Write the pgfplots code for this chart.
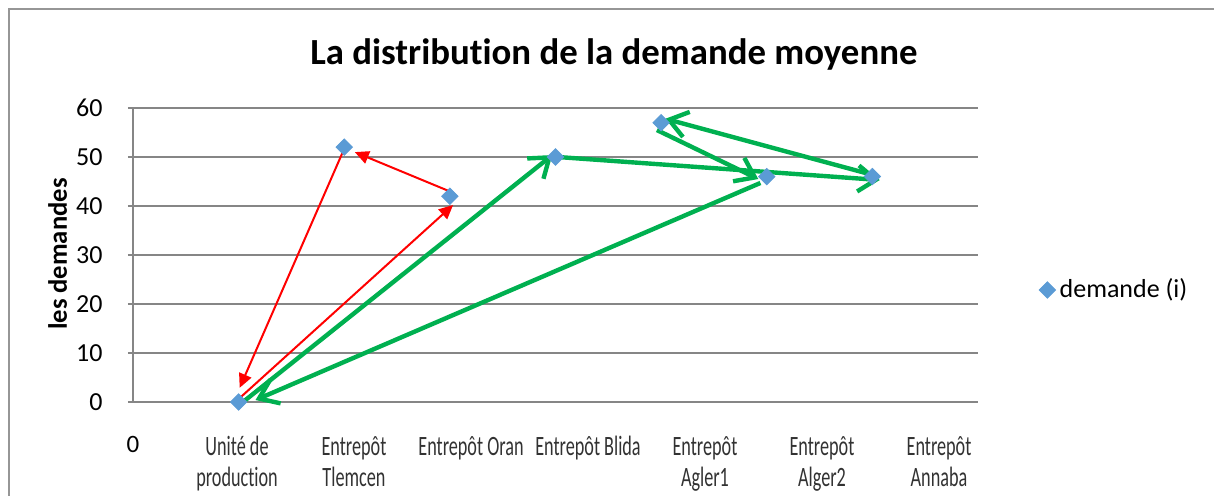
\documentclass[border=0pt]{standalone}
\usepackage{fontspec}
\setmainfont{Carlito}[Ligatures=NoCommon]
\newfontfamily\condfont{Carlito}[FakeStretch=0.65, Ligatures=NoCommon]
\usepackage{pgfplots}
\pgfplotsset{compat=1.18}
\usetikzlibrary{arrows.meta}
\definecolor{markblue}{RGB}{91,155,213}
\definecolor{gridgray}{RGB}{134,134,134}
\definecolor{framegray}{RGB}{150,150,150}
\definecolor{arrgreen}{RGB}{0,176,80}
\definecolor{labgray}{RGB}{50,50,50}
\begin{document}
\begin{tikzpicture}
\useasboundingbox (0,0) rectangle (607pt,248pt);
\begin{scope}
\clip (0,0) rectangle (607pt,248pt);
\draw[color=framegray, line width=0.7pt] (4.5pt,-5pt) -- (4.5pt,243.5pt) -- (615pt,243.5pt);
\end{scope}
\begin{axis}[
  at={(66.5pt,47pt)}, anchor=south west,
  width=422.5pt, height=147pt, scale only axis,
  xmin=0, xmax=8, ymin=0, ymax=60,
  clip=false,
  axis x line*=bottom, axis y line*=left,
  axis line style={color=gridgray, line width=0.7pt},
  ymajorgrids, grid style={color=gridgray, line width=0.7pt},
  ytick={0,10,...,60},
  ytick style={color=gridgray, line width=0.7pt},
  tick align=outside, major tick length=2.5pt,
  xtick={0,0.985,2.092,3.200,4.308,5.415,6.523,7.631},
  xtick style={draw=none},
  xticklabels={{\normalfont\fontsize{12.5}{14}\selectfont\color{black}0},
    Unité de\\production, Entrepôt\\Tlemcen, Entrepôt Oran, Entrepôt Blida,
    Entrepôt\\Agler1, Entrepôt\\Alger2, Entrepôt\\Annaba},
  xticklabel style={align=center, anchor=north, inner sep=0pt, yshift=-14.5pt,
    font=\condfont\fontsize{14}{15.5}\selectfont, text=labgray},
  yticklabel style={font=\fontsize{13}{15}\selectfont, text=black, anchor=east, inner sep=0pt, xshift=-12.5pt},
  /pgf/number format/assume math mode=true,
  title={La distribution de la demande moyenne},
  title style={at={(0.569,1.108)}, anchor=base, font=\bfseries\fontsize{18.4}{21}\selectfont},
  ylabel={les demandes},
  ylabel style={at={(-0.0893,0.503)}, anchor=center, font=\bfseries\fontsize{13.3}{15}\selectfont},
  legend style={draw=none, fill=none, at={(1.072,0.381)}, anchor=west, inner sep=0pt,
    font=\fontsize{13}{15}\selectfont},
  legend image code/.code={\draw[#1] plot coordinates {(0pt,0pt)};},
]
\addplot[only marks, mark=square*, mark size=2.9pt,
  mark options={rotate=45, fill=markblue, draw=markblue}]
  coordinates {(1,0) (2,52) (3,42) (4,50) (5,57) (6,46) (7,46)};
\addlegendentry{demande (i)}
% red route
\addplot[forget plot, red, line width=1pt, -{Triangle[length=7pt, width=6.5pt]}]
  coordinates {(1.01,0.8) (3.03,40.2)};
\addplot[forget plot, red, line width=1pt, -{Triangle[length=7pt, width=6.5pt]}]
  coordinates {(3.03,42.7) (2.10,51.0)};
\addplot[forget plot, red, line width=1pt, -{Triangle[length=7pt, width=6.5pt]}]
  coordinates {(1.99,51.2) (1.01,2.9)};
% green route
\addplot[forget plot, arrgreen, line width=2.2pt, -{Straight Barb[length=9pt, width=13pt]}]
  coordinates {(1.03,-0.2) (3.97,50.4)};
\addplot[forget plot, arrgreen, line width=2.2pt, -{Straight Barb[length=9pt, width=13pt]}]
  coordinates {(4.02,50) (7.07,45.3)};
\addplot[forget plot, arrgreen, line width=2.2pt, -{Straight Barb[length=9pt, width=13pt]}]
  coordinates {(7.01,46.3) (5.04,57.8)};
\addplot[forget plot, arrgreen, line width=2.2pt, -{Straight Barb[length=9pt, width=13pt]}]
  coordinates {(4.96,55.5) (5.92,45.5)};
\addplot[forget plot, arrgreen, line width=2.2pt, -{Straight Barb[length=9pt, width=13pt]}]
  coordinates {(5.94,44.7) (1.16,0.4)};
\end{axis}
\end{tikzpicture}
\end{document}
